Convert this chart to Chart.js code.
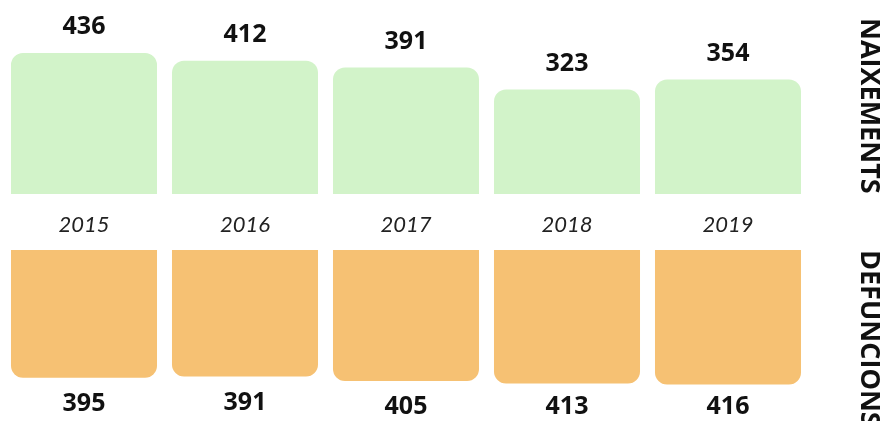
<!DOCTYPE html>
<html>
<head>
<meta charset="utf-8">
<script src="https://cdn.jsdelivr.net/npm/chart.js"></script>
<style>
  html, body { margin: 0; padding: 0; background: #fff; }
  #wrap { position: relative; width: 885px; height: 421px; overflow: hidden; }
  canvas { position: absolute; left: 0; }
  .side {
    position: absolute;
    writing-mode: vertical-rl;
    font-family: "Open Sans", sans-serif;
    font-weight: 700;
    font-size: 27px;
    line-height: 27px;
    color: #111;
    white-space: nowrap;
  }
</style>
</head>
<body>
<div id="wrap">
  <canvas id="chart-births" width="885" height="250" style="top:0"></canvas>
  <canvas id="chart-deaths" width="885" height="171" style="top:250px"></canvas>
  <div class="side" style="left:858px; top:18px">NAIXEMENTS</div>
  <div class="side" style="left:858px; top:250px">DEFUNCIONS</div>
</div>
<script>
const years = ['2015', '2016', '2017', '2018', '2019'];
const births = [436, 412, 391, 323, 354];
const deaths = [395, 391, 405, 413, 416];

const valueFont = 'bold 25px "Open Sans", sans-serif';

// draws the value above / below each bar
const valueLabels = {
  id: 'valueLabels',
  afterDatasetsDraw(chart, args, opts) {
    const ctx = chart.ctx;
    const meta = chart.getDatasetMeta(0);
    const data = chart.data.datasets[0].data;
    ctx.save();
    ctx.font = valueFont;
    ctx.fillStyle = '#111';
    ctx.textAlign = 'center';
    ctx.textBaseline = 'middle';
    meta.data.forEach((bar, i) => {
      let y;
      if (opts.below) {
        y = Math.min(bar.y + 26, chart.height - 14);
      } else {
        y = bar.y - 26;
      }
      ctx.fillText(String(data[i]), bar.x, y);
    });
    ctx.restore();
  }
};

new Chart(document.getElementById('chart-births'), {
  type: 'bar',
  data: {
    labels: years,
    datasets: [{
      label: 'Naixements',
      data: births,
      backgroundColor: '#d2f3c9',
      borderRadius: 12,
      categoryPercentage: 1,
      barPercentage: 0.907,
    }]
  },
  options: {
    responsive: false,
    animation: false,
    layout: { padding: { left: 3.5, right: 76.5, top: 0, bottom: 0 } },
    plugins: {
      legend: { display: false },
      tooltip: { enabled: false },
      valueLabels: { below: false },
    },
    scales: {
      x: {
        grid: { display: false },
        border: { display: false },
        ticks: {
          padding: 10,
          color: '#222',
          font: { family: 'Lato', style: 'italic', size: 22 },
        },
        afterFit(scale) { scale.height = 56; },
      },
      y: { display: false, min: 0, max: 600 },
    },
  },
  plugins: [valueLabels],
});

new Chart(document.getElementById('chart-deaths'), {
  type: 'bar',
  data: {
    labels: years,
    datasets: [{
      label: 'Defuncions',
      data: deaths,
      backgroundColor: '#f6c173',
      borderRadius: 12,
      categoryPercentage: 1,
      barPercentage: 0.907,
    }]
  },
  options: {
    responsive: false,
    animation: false,
    layout: { padding: { left: 3.5, right: 76.5, top: 0, bottom: 0 } },
    plugins: {
      legend: { display: false },
      tooltip: { enabled: false },
      valueLabels: { below: true },
    },
    scales: {
      x: { display: false },
      y: { display: false, reverse: true, min: 0, max: 529 },
    },
  },
  plugins: [valueLabels],
});
</script>
</body>
</html>
